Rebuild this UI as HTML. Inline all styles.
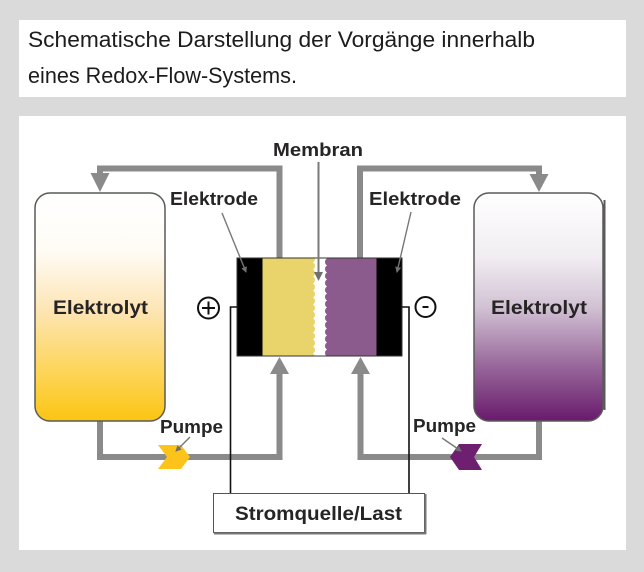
<!DOCTYPE html>
<html>
<head>
<meta charset="utf-8">
<style>
  html, body { margin:0; padding:0; background:#dadada; }
  body { width:644px; height:572px; overflow:hidden; }
  svg { display:block; }
  .lbl { font-family:"Liberation Sans", sans-serif; font-weight:bold; fill:#262424; }
  .cap { font-family:"Liberation Sans", sans-serif; font-weight:normal; fill:#1c1c1c; }
</style>
</head>
<body>
<svg width="644" height="572" viewBox="0 0 644 572" xmlns="http://www.w3.org/2000/svg">
  <defs>
    <linearGradient id="gy" x1="0" y1="0" x2="0" y2="1">
      <stop offset="0" stop-color="#ffffff"/>
      <stop offset="0.25" stop-color="#fffcf6"/>
      <stop offset="0.5" stop-color="#fde6b8"/>
      <stop offset="0.75" stop-color="#fdd764"/>
      <stop offset="1" stop-color="#fcc512"/>
    </linearGradient>
    <linearGradient id="gp" x1="0" y1="0" x2="0" y2="1">
      <stop offset="0" stop-color="#ffffff"/>
      <stop offset="0.28" stop-color="#f1edf2"/>
      <stop offset="0.5" stop-color="#d2c2d4"/>
      <stop offset="0.75" stop-color="#9a6a9c"/>
      <stop offset="1" stop-color="#691a6c"/>
    </linearGradient>
    <marker id="ah" markerWidth="6" markerHeight="6" refX="5" refY="3" orient="auto" markerUnits="userSpaceOnUse">
      <path d="M0,0 L6,3 L0,6 z" fill="#6f6f6f"/>
    </marker>
    <clipPath id="cellclip"><rect x="237" y="258" width="165" height="98"/></clipPath>
  </defs>

  <!-- background -->
  <rect x="0" y="0" width="644" height="572" fill="#dadada"/>
  <!-- caption panel -->
  <rect x="19" y="20" width="607" height="77" fill="#ffffff"/>
  <text class="cap" x="28" y="47" font-size="22.5" textLength="507" lengthAdjust="spacingAndGlyphs">Schematische Darstellung der Vorgänge innerhalb</text>
  <text class="cap" x="28" y="83" font-size="22.5" textLength="269" lengthAdjust="spacingAndGlyphs">eines Redox-Flow-Systems.</text>

  <!-- diagram panel -->
  <rect x="19" y="116" width="607" height="434" fill="#ffffff"/>

  <!-- pipes -->
  <g fill="none" stroke="#8a8a8a" stroke-width="6" stroke-linejoin="miter">
    <path d="M279.5 258 V168.5 H100 V176"/>
    <path d="M360 258 V168.5 H539 V176"/>
    <path d="M100 420 V457 H279.5 V372"/>
    <path d="M539 420 V457 H360.5 V372"/>
  </g>
  <g fill="#8a8a8a">
    <polygon points="90.5,173 109.5,173 100,192"/>
    <polygon points="529.5,174 548.5,174 539,192"/>
    <polygon points="270,374 289,374 279.5,357"/>
    <polygon points="351,374 370,374 360.5,357"/>
  </g>

  <!-- tanks -->
  <rect x="35" y="193" width="130" height="228" rx="15" ry="15" fill="url(#gy)" stroke="#5a5a5a" stroke-width="1.5"/>
  <rect x="474" y="193" width="129" height="228" rx="15" ry="15" fill="url(#gp)" stroke="#5a5a5a" stroke-width="1.5"/>
  <line x1="604.5" y1="200" x2="604.5" y2="410" stroke="#5a5a5a" stroke-width="2"/>

  <!-- cell -->
  <g clip-path="url(#cellclip)">
    <rect x="237" y="258" width="165" height="98" fill="#ffffff"/>
    <rect x="262" y="258" width="50" height="98" fill="#e9d46c"/>
    <rect x="328" y="258" width="49" height="98" fill="#8c5b8e"/>
    <g fill="#e9d46c">
      <circle cx="311" cy="259" r="4"/><circle cx="311" cy="266" r="4"/><circle cx="311" cy="273" r="4"/>
      <circle cx="311" cy="280" r="4"/><circle cx="311" cy="287" r="4"/><circle cx="311" cy="294" r="4"/>
      <circle cx="311" cy="301" r="4"/><circle cx="311" cy="308" r="4"/><circle cx="311" cy="315" r="4"/>
      <circle cx="311" cy="322" r="4"/><circle cx="311" cy="329" r="4"/><circle cx="311" cy="336" r="4"/>
      <circle cx="311" cy="343" r="4"/><circle cx="311" cy="350" r="4"/><circle cx="311" cy="357" r="4"/>
    </g>
    <g fill="#8c5b8e">
      <circle cx="329" cy="262" r="4"/><circle cx="329" cy="269" r="4"/><circle cx="329" cy="276" r="4"/>
      <circle cx="329" cy="283" r="4"/><circle cx="329" cy="290" r="4"/><circle cx="329" cy="297" r="4"/>
      <circle cx="329" cy="304" r="4"/><circle cx="329" cy="311" r="4"/><circle cx="329" cy="318" r="4"/>
      <circle cx="329" cy="325" r="4"/><circle cx="329" cy="332" r="4"/><circle cx="329" cy="339" r="4"/>
      <circle cx="329" cy="346" r="4"/><circle cx="329" cy="353" r="4"/>
    </g>
    <rect x="237.5" y="258.5" width="25" height="97" fill="#000"/>
    <rect x="376.5" y="258.5" width="25" height="97" fill="#000"/>
  </g>
  <rect x="237" y="258" width="165" height="98" fill="none" stroke="#333" stroke-width="1"/>

  <!-- membrane arrow -->
  <line x1="318.5" y1="162" x2="318.5" y2="274" stroke="#7a7a7a" stroke-width="2"/>
  <polygon points="314,272 323,272 318.5,281" fill="#6f6f6f"/>

  <!-- electrode leaders -->
  <line x1="222" y1="213" x2="246" y2="272" stroke="#777" stroke-width="1.4" marker-end="url(#ah)"/>
  <line x1="411" y1="212" x2="397" y2="272" stroke="#777" stroke-width="1.4" marker-end="url(#ah)"/>

  <!-- wires -->
  <path d="M237 307 H230.5 V493" fill="none" stroke="#111" stroke-width="1.6"/>
  <path d="M402 307 H409 V493" fill="none" stroke="#111" stroke-width="1.6"/>

  <!-- plus / minus -->
  <circle cx="208.5" cy="308" r="10.5" fill="#fff" stroke="#111" stroke-width="2"/>
  <line x1="202" y1="308" x2="215" y2="308" stroke="#111" stroke-width="2"/>
  <line x1="208.5" y1="301.5" x2="208.5" y2="314.5" stroke="#111" stroke-width="2"/>
  <circle cx="425.5" cy="307" r="10" fill="#fff" stroke="#111" stroke-width="2"/>
  <line x1="422.5" y1="307" x2="428.5" y2="307" stroke="#111" stroke-width="2"/>

  <!-- pumps -->
  <polygon points="158,445 181,445 190,457 181,469 158,469 167,457" fill="#fcc41a"/>
  <polygon points="450,457 459,444 482,444 474,457 482,470 459,470" fill="#6e1f70"/>
  <line x1="190" y1="437" x2="176" y2="451" stroke="#777" stroke-width="1.4" marker-end="url(#ah)"/>
  <line x1="442" y1="438" x2="461" y2="451" stroke="#777" stroke-width="1.4" marker-end="url(#ah)"/>

  <!-- Stromquelle box -->
  <rect x="213.5" y="493.5" width="211" height="39" fill="#fff" stroke="#555" stroke-width="1"/>
  <line x1="214" y1="533.5" x2="426" y2="533.5" stroke="#777" stroke-width="2"/>
  <line x1="425.5" y1="494" x2="425.5" y2="534" stroke="#777" stroke-width="2"/>

  <!-- labels -->
  <text class="lbl" x="273" y="156" font-size="18" textLength="90" lengthAdjust="spacingAndGlyphs">Membran</text>
  <text class="lbl" x="170" y="205" font-size="18" textLength="88" lengthAdjust="spacingAndGlyphs">Elektrode</text>
  <text class="lbl" x="369" y="205" font-size="18" textLength="92" lengthAdjust="spacingAndGlyphs">Elektrode</text>
  <text class="lbl" x="53" y="314" font-size="19" textLength="95" lengthAdjust="spacingAndGlyphs">Elektrolyt</text>
  <text class="lbl" x="491" y="314" font-size="19" textLength="96" lengthAdjust="spacingAndGlyphs">Elektrolyt</text>
  <text class="lbl" x="160" y="433" font-size="18" textLength="63" lengthAdjust="spacingAndGlyphs">Pumpe</text>
  <text class="lbl" x="413" y="432" font-size="18" textLength="63" lengthAdjust="spacingAndGlyphs">Pumpe</text>
  <text class="lbl" x="235" y="520" font-size="19.5" textLength="167" lengthAdjust="spacingAndGlyphs">Stromquelle/Last</text>
</svg>
</body>
</html>
